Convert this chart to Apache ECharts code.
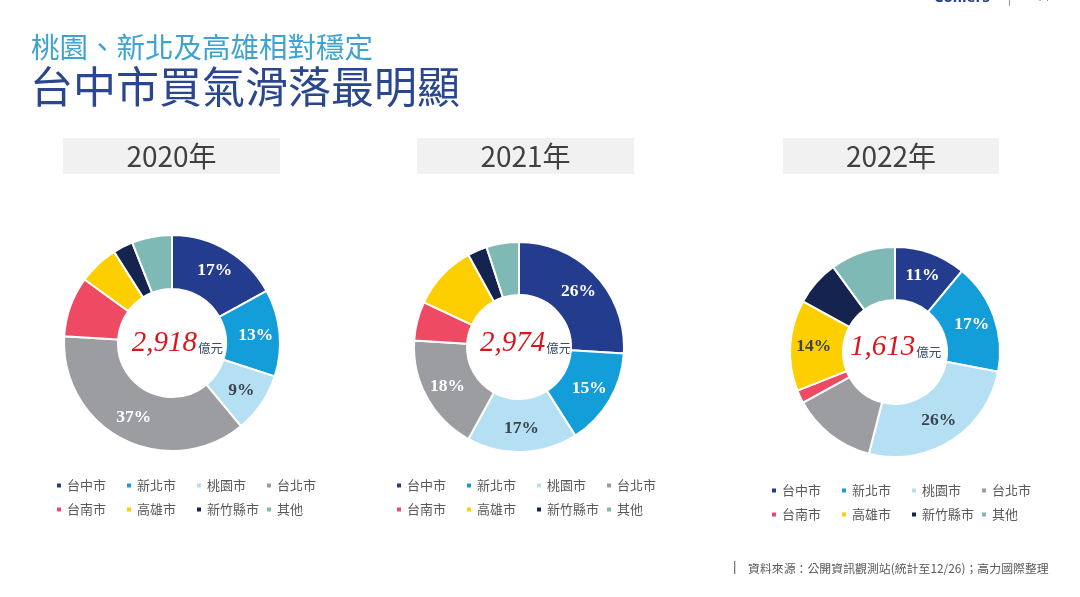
<!DOCTYPE html>
<html>
<head>
<meta charset="utf-8">
<script src="https://cdn.jsdelivr.net/npm/echarts@6/dist/echarts.min.js"></script>
<style>
html,body{margin:0;padding:0;background:#fff;}
#main{width:1080px;height:597px;}
</style>
</head>
<body>
<div id="main"></div>
<script>
// ---- data ----
const categories = ['台中市','新北市','桃園市','台北市','台南市','高雄市','新竹縣市','其他'];
const years = ['2020年','2021年','2022年'];
const totals = [2918, 2974, 1613];
const values2020 = [17, 13, 9, 37, 9, 6, 3, 6];
const values2021 = [26, 15, 17, 18, 6, 10, 3, 5];
const values2022 = [11, 17, 26, 13, 2, 14, 7, 10];
const labeled2020 = ['台中市','新北市','桃園市','台北市'];
const labeled2021 = ['台中市','新北市','桃園市','台北市'];
const labeled2022 = ['台中市','新北市','桃園市','高雄市'];
const titleLine1 = '桃園、新北及高雄相對穩定';
const titleLine2 = '台中市買氣滑落最明顯';
const sourceText = '資料來源：公開資訊觀測站(統計至12/26)；高力國際整理';

// ---- style ----
const colors = ['#243C8E','#139DD9','#B5E0F3','#9B9DA0','#EE4A63','#FDCF00','#15234F','#7EB9B5'];
const darkLabel = {'桃園市':true,'高雄市':true};
const cjk = '"Noto Sans CJK TC","Noto Sans CJK SC",sans-serif';

const layouts = [
  {cx:172, cy:343, r:[54,108], box:[63,138,217,36], legend:[55,474.5], ctx:131.7, cty:343},
  {cx:519, cy:347, r:[52,105], box:[417,138,217,36], legend:[395,474.5], ctx:480, cty:343},
  {cx:895, cy:352, r:[52,105], box:[783,138,216,36], legend:[770,479.5], ctx:850, cty:347}
];
const valueSets = [values2020, values2021, values2022];
const labeledSets = [labeled2020, labeled2021, labeled2022];

const series = valueSets.map((vals, si) => ({
  type:'pie',
  center:[layouts[si].cx, layouts[si].cy],
  radius:layouts[si].r,
  startAngle:90,
  clockwise:true,
  avoidLabelOverlap:false,
  silent:true,
  itemStyle:{borderColor:'#fff', borderWidth:2},
  labelLine:{show:false},
  data: categories.map((name, i) => ({
    name, value: vals[i],
    itemStyle:{color: colors[i]},
    label:{
      show: labeledSets[si].includes(name),
      position:'inside',
      formatter:'{c}%',
      color: darkLabel[name] ? '#3c444d' : '#ffffff',
      fontFamily:'"Liberation Serif","DejaVu Serif",serif',
      fontWeight:'bold',
      fontSize:17.5
    }
  }))
}));

const legends = layouts.map(l => ({
  data: categories,
  left: l.legend[0], top: l.legend[1],
  width: 282,
  padding: 0,
  orient:'horizontal',
  icon:'rect',
  itemWidth:6, itemHeight:6,
  itemGap:2,
  selectedMode:false,
  textStyle:{fontSize:13, color:'#595959', fontFamily:cjk, width:56, lineHeight:22}
}));

const graphics = [];
graphics.push({type:'text', x:31, y:47.5, style:{text:titleLine1, fill:'#3FA3D0', font:'28.5px '+cjk, verticalAlign:'middle'}});
graphics.push({type:'text', x:30, y:86.5, style:{text:titleLine2, fill:'#2A468E', font:'43px '+cjk, verticalAlign:'middle'}});
layouts.forEach((l, i) => {
  graphics.push({type:'rect', shape:{x:l.box[0], y:l.box[1], width:l.box[2], height:l.box[3]}, style:{fill:'#F1F1F1'}});
  graphics.push({type:'text', x:l.box[0]+l.box[2]/2, y:l.box[1]+l.box[3]/2, style:{text:years[i], fill:'#404040', font:'28px '+cjk, align:'center', verticalAlign:'middle'}});
  graphics.push({type:'text', x:l.ctx, y:l.cty, style:{
    text:'{n|'+totals[i].toLocaleString('en-US')+'}{u|億元}',
    align:'left', verticalAlign:'middle',
    rich:{
      n:{fontFamily:'"Liberation Serif",serif', fontStyle:'italic', fontSize:29, fill:'#D9161C', lineHeight:30, verticalAlign:'bottom'},
      u:{fontFamily:cjk, fontSize:12.5, fill:'#3A4B6E', lineHeight:14, verticalAlign:'bottom', padding:[0,0,3,1]}
    }
  }});
});
graphics.push({type:'rect', shape:{x:734, y:561, width:1.3, height:13}, style:{fill:'#7a7a7a'}});
graphics.push({type:'text', x:748, y:568, style:{text:sourceText, fill:'#595959', font:'11.9px '+cjk, verticalAlign:'middle'}});
graphics.push({type:'text', x:934, y:5, style:{text:'Colliers', fill:'#25408F', font:'bold 15px "Open Sans",sans-serif', verticalAlign:'bottom'}});
graphics.push({type:'rect', shape:{x:1009, y:0, width:1, height:6}, style:{fill:'#999'}});
graphics.push({type:'text', x:1036, y:4, style:{text:'11', fill:'#888', font:'13px "Open Sans",sans-serif', verticalAlign:'bottom'}});

const chart = echarts.init(document.getElementById('main'));
chart.setOption({
  backgroundColor:'#ffffff',
  animation:false,
  legend: legends,
  series: series,
  graphic: graphics
});
</script>
</body>
</html>
